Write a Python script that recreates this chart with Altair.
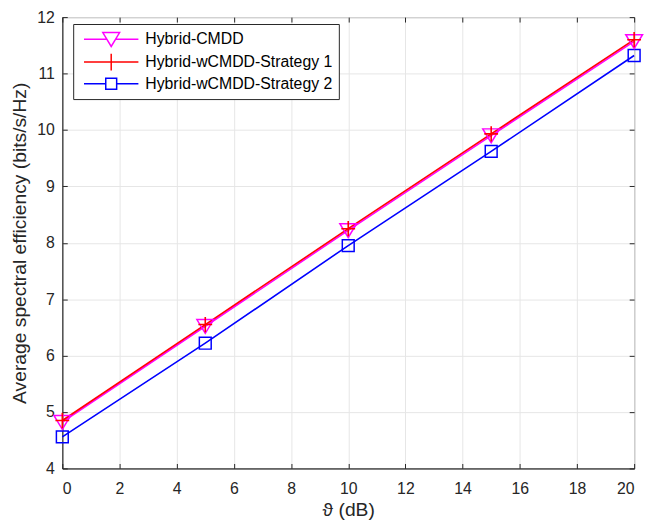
import altair as alt
import pandas as pd

snr_db = [0, 5, 10, 15, 20]
cmdd = [4.82, 6.52, 8.22, 9.90, 11.57]
strat1 = [4.85, 6.55, 8.25, 9.93, 11.60]
strat2 = [4.56, 6.22, 7.95, 9.62, 11.32]

names = ["Hybrid-CMDD", "Hybrid-wCMDD-Strategy 1", "Hybrid-wCMDD-Strategy 2"]
colors = ["#FF00FF", "#FF0000", "#0000FF"]
x_ticks = list(range(0, 21, 2))
y_ticks = list(range(4, 13))

rows = []
for name, vals, order in zip(names, [cmdd, strat1, strat2], [1, 2, 0]):
    for x, y in zip(snr_db, vals):
        rows.append({"x": x, "y": y, "series": name, "order": order})
df = pd.DataFrame(rows)

tri = "M-1,-0.8L1,-0.8L0,0.85Z"
sq = "M-1,-1H1V1H-1Z"
plus = "M-0.9,0H0.9M0,-1V1"

# legend symbols (line + marker), unit = sqrt(size)/2 px
leg_tri = "M-3.24,0H-0.55M0.55,0H3.24M-1,-0.8L1,-0.8L0,0.85Z"
leg_plus = "M-3.24,0H3.24M0,-1V1"
leg_sq = "M-3.24,0H-0.65M0.65,0H3.24M-0.65,-0.65H0.65V0.65H-0.65Z"

xs = alt.Scale(domain=[0, 20], nice=False)
ys = alt.Scale(domain=[4, 12], nice=False)
cs = alt.Scale(domain=names, range=colors)

base = alt.Chart(df)


def tick_axis(vals, orient):
    return alt.Axis(values=vals, orient=orient, labels=False, domain=False, grid=False,
                    ticks=True, tickSize=5, tickColor="#262626", tickWidth=1,
                    offset=-5, title=None)


lines = base.mark_line(strokeWidth=1.6).encode(
    x=alt.X("x:Q", scale=xs, title="ϑ (dB)",
            axis=alt.Axis(values=x_ticks, format="d", ticks=False, labelPadding=12,
                          titlePadding=5, orient="bottom")),
    y=alt.Y("y:Q", scale=ys, title="Average spectral efficiency (bits/s/Hz)",
            axis=alt.Axis(values=y_ticks, format="d", ticks=False, labelPadding=8,
                          titlePadding=7, orient="left")),
    color=alt.Color("series:N", scale=cs, legend=None),
    detail="series:N",
    order=alt.Order("order:Q"),
)


def pts(name, path, size, sw, xaxis, yaxis):
    return base.transform_filter(alt.datum.series == name).mark_point(
        shape=path, size=size, filled=False, strokeWidth=sw, opacity=1
    ).encode(
        x=alt.X("x:Q", scale=xs, axis=xaxis),
        y=alt.Y("y:Q", scale=ys, axis=yaxis),
        color=alt.Color("series:N", scale=cs, legend=None),
    )


p2 = pts(names[2], sq, 144, 1.5, tick_axis(x_ticks, "bottom"), tick_axis(y_ticks, "left"))
p0 = pts(names[0], tri, 289, 1.5, tick_axis(x_ticks, "top"), tick_axis(y_ticks, "right"))
p1 = pts(names[1], plus, 240, 1.6, None, None)

legend_layer = base.mark_point(opacity=0, filled=False, size=289).encode(
    x=alt.X("x:Q", scale=xs, axis=None),
    y=alt.Y("y:Q", scale=ys, axis=None),
    color=alt.Color("series:N", scale=cs, sort=names, title=None,
                    legend=alt.Legend(orient="none", legendX=11, legendY=7,
                                      symbolOpacity=1, symbolStrokeWidth=1.5,
                                      symbolSize=289, symbolOffset=23,
                                      labelOffset=25, padding=6,
                                      fillColor="white", strokeColor="#262626",
                                      labelFontSize=16, labelFont="Liberation Sans",
                                      labelColor="#000000", rowPadding=1,
                                      labelLimit=400)),
    shape=alt.Shape("series:N", sort=names, title=None,
                    scale=alt.Scale(domain=names, range=[leg_tri, leg_plus, leg_sq])),
)

chart = alt.layer(lines, p2, p0, p1, legend_layer).resolve_legend(
    color="independent", shape="independent"
).resolve_axis(
    x="independent", y="independent"
).properties(
    width=579, height=457,
    background="white",
    autosize=alt.AutoSizeParams(type="none"),
    padding={"left": 55, "top": 6, "right": 11, "bottom": 50},
).configure_view(
    stroke="#262626", strokeWidth=1
).configure_axis(
    gridColor="#E6E6E6", gridWidth=1,
    domainColor="#262626", labelColor="#262626", titleColor="#262626",
    labelFont="Liberation Sans", titleFont="Liberation Sans",
    labelFontSize=16, titleFontSize=19.5, titleFontWeight="normal",
)

chart.save("out.html", embed_options={"renderer": "svg", "actions": False})
